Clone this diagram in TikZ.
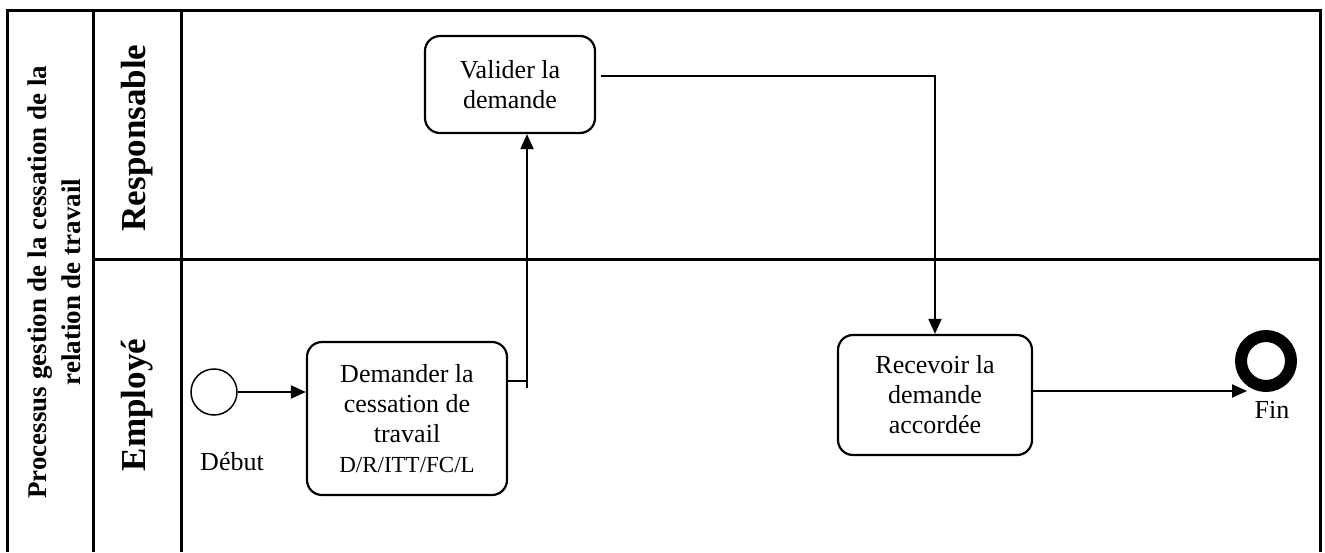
\documentclass[tikz,border=0pt]{standalone}
\usepackage{fontspec}
\setmainfont{Liberation Serif}
\usetikzlibrary{arrows.meta}
\tikzset{
  frame/.style={line width=3pt},
  task/.style={draw, line width=2.2pt, rounded corners=15pt, align=center, inner sep=0pt,
    font=\fontsize{26}{30}\selectfont},
  flow/.style={line width=2pt, -{Triangle[length=15pt,width=13pt]}},
  plain/.style={line width=2pt},
  lanelabel/.style={rotate=90, font=\fontsize{35}{40}\selectfont\bfseries},
  txt/.style={font=\fontsize{26}{30}\selectfont, inner sep=0pt}
}
\begin{document}
\begin{tikzpicture}[x=1pt,y=-1pt]
\useasboundingbox (0,0) rectangle (1325,552);
% frame
\draw[frame] (7,552) -- (7,10) -- (1320,10) -- (1320,552);
\draw[frame] (93,10) -- (93,552);
\draw[frame] (181,10) -- (181,552);
\draw[frame] (93,259) -- (1320,259);
% labels
\node[rotate=90, align=center, font=\fontsize{27}{34}\selectfont\bfseries] (title) at (54,282)
  {Processus gestion de la cessation de la\\relation de travail};
\node[lanelabel] (resp) at (137,138) {Responsable};
\node[lanelabel] (emp) at (137,405) {Employé};
% tasks
\node[task, minimum width=170pt, minimum height=97pt] (val) at (510,84.5) {Valider la\\demande};
\node[task, minimum width=200pt, minimum height=153pt] (dem) at (407,418.5)
  {Demander la\\cessation de\\travail\\{\fontsize{23}{25}\selectfont D/R/ITT/FC/L}};
\node[task, minimum width=194pt, minimum height=120pt] (rec) at (935,395) {Recevoir la\\demande\\accordée};
% events
\node[draw, circle, line width=1.5pt, minimum size=46pt, inner sep=0pt] (start) at (214,392) {};
\node[txt] (debut) at (232,462) {Début};
\node[draw, circle, line width=12pt, minimum size=50pt, inner sep=0pt] (fin) at (1266,361) {};
\node[txt] (finlbl) at (1272,410) {Fin};
% connectors
\coordinate (j1) at (527,381);
\coordinate (j2) at (527,388);
\coordinate (v1) at (935,76);
\coordinate (a1) at (1247,391);
\draw[flow] (start.east) -- (start.east -| dem.west);
\draw[plain] (dem.east |- j1) -- (j1);
\draw[flow] (j2) -- (j2 |- val.south);
\draw[flow, shorten <=5pt] (val.east |- v1) -- (v1) -- (rec.north);
\draw[flow] (rec.east |- a1) -- (a1);
\end{tikzpicture}
\end{document}
